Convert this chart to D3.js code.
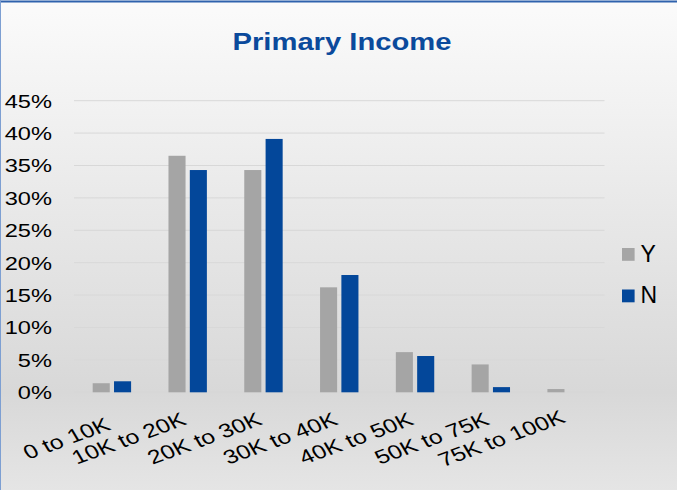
<!DOCTYPE html>
<html>
<head>
    <meta charset="utf-8">
    <title>Primary Income</title>
    <style type="text/css">
        body { margin: 0; }
        text { font-family: "Liberation Sans", Arial, sans-serif; fill: #000; }
    </style>
</head>
<body>

<script src="https://d3js.org/d3.v7.min.js"></script>
<script type="text/javascript">

    var categories = ["0 to 10K", "10K to 20K", "20K to 30K", "30K to 40K", "40K to 50K", "50K to 75K", "75K to 100K"],
        seriesY = [1.4, 36.5, 34.3, 16.2, 6.2, 4.3, 0.5],
        seriesN = [1.7, 34.3, 39.1, 18.1, 5.6, 0.8, 0.0],
        series = ["Y", "N"],
        tickValues = [0, 5, 10, 15, 20, 25, 30, 35, 40, 45];

    var width = 677, height = 490,
        stretch = 1.27, // text in the picture is drawn a bit wide
        colors = {Y: "#a5a5a5", N: "#03479a"};

    var svg = d3.select("body")
        .append("svg")
        .attr("width", width)
        .attr("height", height);

    // background gradient
    var grad = svg.append("defs").append("linearGradient")
        .attr("id", "bg").attr("x1", 0).attr("y1", 0).attr("x2", 0).attr("y2", 1);
    grad.append("stop").attr("offset", "0%").attr("stop-color", "#fbfbfb");
    grad.append("stop").attr("offset", "80%").attr("stop-color", "#d8d8d8");
    grad.append("stop").attr("offset", "100%").attr("stop-color", "#e5e5e5");

    svg.append("rect").attr("width", width).attr("height", height).attr("fill", "url(#bg)");
    // frame lines on top and left
    svg.append("line").attr("x1", 0).attr("x2", width).attr("y1", 1.5).attr("y2", 1.5)
        .attr("stroke", "#2f62ad").attr("stroke-width", 2);
    svg.append("line").attr("x1", 0.5).attr("x2", 0.5).attr("y1", 0).attr("y2", height)
        .attr("stroke", "#7d9fd2").attr("stroke-width", 1);

    var x0 = d3.scaleBand().domain(categories).range([74, 604.5]),
        x1 = d3.scaleBand().domain(series).range([0, 38.4]).paddingInner(0.2),
        y = d3.scaleLinear().domain([0, 45]).range([392.3, 100.7]);

    //gridlines
    svg.append("g").selectAll("line")
        .data(tickValues)
        .join("line")
        .attr("x1", 74).attr("x2", 604.5)
        .attr("y1", function(d){ return y(d); })
        .attr("y2", function(d){ return y(d); })
        .attr("stroke", "#d8d8d8")
        .attr("stroke-width", 1);

    //y labels
    svg.append("g").selectAll("text")
        .data(tickValues)
        .join("text")
        .attr("transform", function(d){ return "translate(52," + y(d) + ") scale(" + stretch + ",1)"; })
        .attr("dy", "0.37em")
        .attr("text-anchor", "end")
        .style("font-size", "18.6px")
        .text(function(d){ return d + "%"; });

    //bars
    var values = {Y: seriesY, N: seriesN};
    var off = (x0.bandwidth() - 38.4) / 2;
    var groups = svg.append("g").selectAll("g")
        .data(categories)
        .join("g")
        .attr("transform", function(d){ return "translate(" + (x0(d) + off) + ",0)"; });

    groups.selectAll("rect")
        .data(function(d, i){ return series.map(function(s){ return {s: s, v: values[s][i]}; }); })
        .join("rect")
        .attr("x", function(d){ return x1(d.s); })
        .attr("width", x1.bandwidth())
        .attr("y", function(d){ return y(d.v); })
        .attr("height", function(d){ return y(0) - y(d.v); })
        .attr("fill", function(d){ return colors[d.s]; });

    //x labels, rotated, boxes centred on one line like the original
    var labelMid = 438.5;
    svg.append("g").selectAll("text")
        .data(categories)
        .join("text")
        .attr("text-anchor", "end")
        .style("font-size", "19.5px")
        .text(function(d){ return d; })
        .each(function(d){
            var cx = x0(d) + x0.bandwidth() / 2;
            var t = d3.select(this);
            t.attr("transform", "translate(" + cx + "," + labelMid + ") scale(" + stretch + ",1) rotate(-25)");
            var r = this.getBoundingClientRect();
            var shift = labelMid - (r.top + r.bottom) / 2;
            t.attr("transform", "translate(" + cx + "," + (labelMid + shift) + ") scale(" + stretch + ",1) rotate(-25)");
        });

    //title
    svg.append("text")
        .attr("transform", "translate(342,50) scale(" + stretch + ",1)")
        .attr("text-anchor", "middle")
        .style("font-size", "23px")
        .style("font-weight", "bold")
        .style("fill", "#0b4a9c")
        .text("Primary Income");

    //legend
    var legend = svg.append("g").selectAll("g")
        .data(series)
        .join("g")
        .attr("transform", function(d, i){ return "translate(622," + (248 + i * 41.5) + ")"; });

    legend.append("rect")
        .attr("width", 12.6).attr("height", 12.8)
        .attr("fill", function(d){ return colors[d]; });

    legend.append("text")
        .attr("x", 18.5).attr("y", 13.5)
        .style("font-size", "23px")
        .text(function(d){ return d; });

</script>
</body>
</html>
